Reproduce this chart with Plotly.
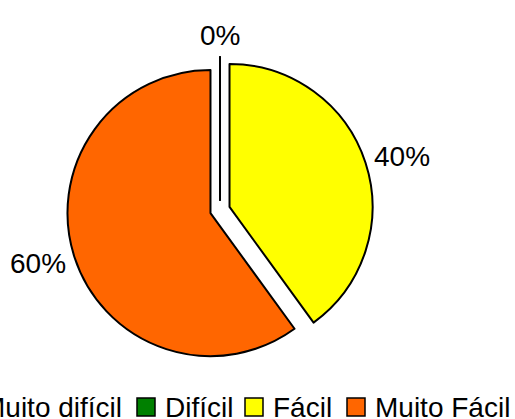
import math
import plotly.graph_objects as go

categories = ["Muito difícil", "Difícil", "Fácil", "Muito Fácil"]
values = [0, 0, 40, 60]
pct_labels = ["", "0%", "40%", "60%"]
colors = ["#000080", "#008000", "#FFFF00", "#FF6600"]

W, H = 515, 419
FONT = "Liberation Sans, Arial, sans-serif"
FS = 28

# pie box in pixels
dom_x = (67, 373)
dom_y = (57, 363)
PULL = 0.07

fig = go.Figure()
fig.add_trace(go.Pie(
    labels=categories,
    values=values,
    textinfo="none",
    sort=False,
    direction="clockwise",
    rotation=0,
    pull=[PULL] * len(values),
    marker=dict(colors=colors, line=dict(color="black", width=2)),
    domain=dict(x=[dom_x[0] / W, dom_x[1] / W], y=[1 - dom_y[1] / H, 1 - dom_y[0] / H]),
    showlegend=False,
    hoverinfo="skip",
))

# percentage labels placed outside each slice (Excel style)
cx = (dom_x[0] + dom_x[1]) / 2
cy = (dom_y[0] + dom_y[1]) / 2
r = (dom_x[1] - dom_x[0]) / 2 / (1 + PULL)
ra = r * (1 + PULL) + 10
total = sum(values)
cum = 0
for v, lab in zip(values, pct_labels):
    mid = (cum + v / 2) / total * 2 * math.pi
    cum += v
    if not lab:
        continue
    s, c = math.sin(mid), math.cos(mid)
    w = FS * (0.556 * (len(lab) - 1) + 0.889)
    h = FS * 0.8
    px = cx + ra * s + s * w / 2
    py = cy - ra * c - c * h / 2
    fig.add_annotation(xref="paper", yref="paper", x=px / W, y=1 - py / H,
                       xanchor="center", yanchor="middle", text=lab,
                       showarrow=False, font=dict(family=FONT, size=FS, color="black"))

# custom legend (wider than the page, centered, clipped at both sides)
legend_x = [-46, 137, 245, 347]  # left edge of each legend square in px
sq = 18
y_top, y_bot = 398, 416
for name, col, x0 in zip(categories, colors, legend_x):
    fig.add_shape(type="rect", xref="paper", yref="paper",
                  x0=x0 / W, x1=(x0 + sq) / W,
                  y0=1 - y_bot / H, y1=1 - y_top / H,
                  fillcolor=col, line=dict(color="black", width=1.5))
    fig.add_annotation(xref="paper", yref="paper", x=(x0 + sq + 8) / W,
                       y=1 - 407 / H, xanchor="left", yanchor="middle",
                       text=name, showarrow=False,
                       font=dict(family=FONT, size=FS, color="black"))

fig.update_layout(
    width=W, height=H,
    margin=dict(l=0, r=0, t=0, b=0, autoexpand=False),
    paper_bgcolor="white", plot_bgcolor="white",
    font=dict(family=FONT, size=FS, color="black"),
)
fig.write_html("out.html", config={"displayModeBar": False},
               post_script="document.body.style.margin='0';")
